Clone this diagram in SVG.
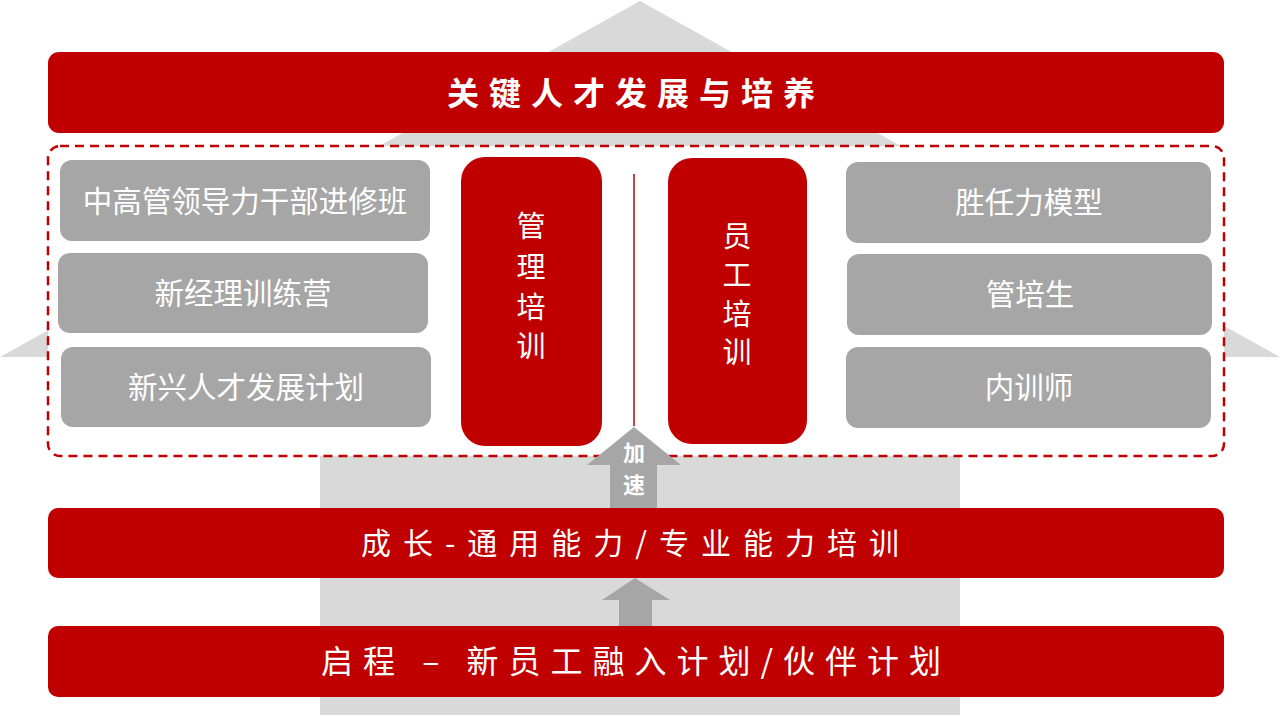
<svg xmlns="http://www.w3.org/2000/svg" width="1280" height="715" viewBox="0 0 1280 715">
<style>
.t{font-family:"Noto Sans CJK SC","Noto Sans",sans-serif;fill:#fff;text-anchor:middle;dominant-baseline:central}
.red{fill:#c00000}
.gray{fill:#a6a6a6}
.bg{fill:#d9d9d9}
</style>
<rect width="1280" height="715" fill="#fff"/>
<g id="background-arrow">
<polygon class="bg" points="640,1 1280,357 960,357 960,715 320,715 320,357 0,357"/>
</g>
<g id="top-bar">
<rect class="red" x="48" y="52" width="1176" height="81" rx="11"/>
<text class="t" x="636" y="91" font-size="32" font-weight="bold" letter-spacing="10">关键人才发展与培养</text>
</g>
<g id="dashed-frame">
<rect x="48" y="146" width="1176" height="310" rx="12" fill="#fff" stroke="#c00000" stroke-width="2.5" stroke-dasharray="9,6"/>
</g>
<g id="left-1">
<rect class="gray" x="60" y="160" width="370" height="81" rx="12"/>
<text class="t" x="245" y="199" font-size="29.5">中高管领导力干部进修班</text>
</g>
<g id="left-2">
<rect class="gray" x="58" y="253" width="370" height="80" rx="12"/>
<text class="t" x="243" y="291" font-size="29.5">新经理训练营</text>
</g>
<g id="left-3">
<rect class="gray" x="61" y="347" width="370" height="80" rx="12"/>
<text class="t" x="246" y="385" font-size="29.5">新兴人才发展计划</text>
</g>
<g id="right-1">
<rect class="gray" x="846" y="162" width="365" height="81" rx="12"/>
<text class="t" x="1029" y="200" font-size="29.5">胜任力模型</text>
</g>
<g id="right-2">
<rect class="gray" x="847" y="254" width="365" height="81" rx="12"/>
<text class="t" x="1030" y="292" font-size="29.5">管培生</text>
</g>
<g id="right-3">
<rect class="gray" x="846" y="347" width="365" height="81" rx="12"/>
<text class="t" x="1029" y="385" font-size="29.5">内训师</text>
</g>
<g id="mgmt-training">
<rect class="red" x="461" y="157" width="141" height="289" rx="24"/>
<text class="t" x="531" y="224" font-size="29">管</text>
<text class="t" x="531" y="265" font-size="29">理</text>
<text class="t" x="531" y="305" font-size="29">培</text>
<text class="t" x="531" y="344" font-size="29">训</text>
</g>
<g id="staff-training">
<rect class="red" x="668" y="158" width="139" height="286" rx="24"/>
<text class="t" x="737" y="234" font-size="29">员</text>
<text class="t" x="737" y="273" font-size="29">工</text>
<text class="t" x="737" y="312" font-size="29">培</text>
<text class="t" x="737" y="350" font-size="29">训</text>
</g>
<g id="connectors">
<line x1="634" y1="174" x2="634" y2="426" stroke="#c00000" stroke-width="1.5"/>
<polygon class="gray" points="634,427 681,465 657,465 657,508 610,508 610,465 587,465"/>
<polygon class="gray" points="635,578 670,600 652,600 652,626 619,626 619,600 602,600"/>
</g>
<g id="accelerate-label">
<text class="t" x="634" y="451" font-size="22" font-weight="bold">加</text>
<text class="t" x="634" y="483" font-size="22" font-weight="bold">速</text>
</g>
<g id="growth-bar">
<rect class="red" x="48" y="508" width="1176" height="70" rx="10"/>
<text class="t" x="636" y="541" font-size="30" letter-spacing="12">成长-通用能力/专业能力培训</text>
</g>
<g id="start-bar">
<rect class="red" x="48" y="626" width="1176" height="71" rx="10"/>
<text class="t" x="636" y="659" font-size="32" letter-spacing="10">启程 – 新员工融入计划/伙伴计划</text>
</g>
</svg>
